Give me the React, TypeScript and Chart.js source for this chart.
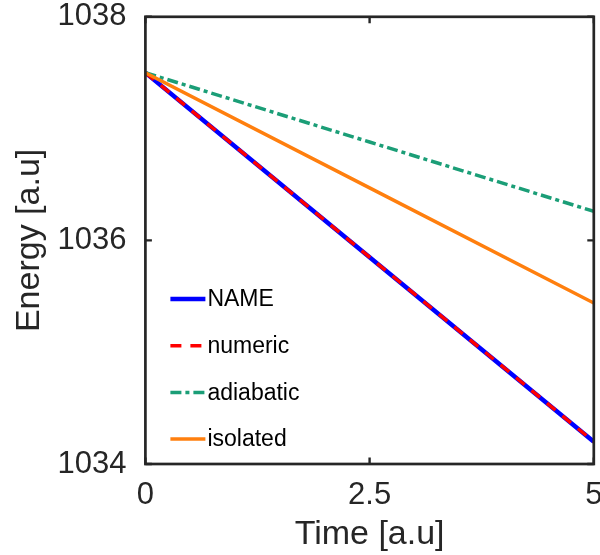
import React, { useEffect, useRef } from "react";
import { Chart, registerables } from "chart.js";

Chart.register(...registerables);

const timeValues = [0, 2.5, 5];
const nameSeries = [1037.5, 1035.85, 1034.2];
const numericSeries = [1037.5, 1035.85, 1034.2];
const adiabaticSeries = [1037.5, 1036.88, 1036.26];
const isolatedSeries = [1037.5, 1036.47, 1035.44];
const seriesLabels = ["NAME", "numeric", "adiabatic", "isolated"];
const xTicks = [0, 2.5, 5];
const yTicks = [1034, 1036, 1038];
const xTitle = "Time [a.u]";
const yTitle = "Energy [a.u]";

const FONT = "'Liberation Sans', Arial, Helvetica, sans-serif";
const AXIS = "#262626";

const toPoints = (ys: number[]) => timeValues.map((t, i) => ({ x: t, y: ys[i] }));

const framePlugin = {
  id: "frameAndLegend",
  afterDatasetsDraw(chart: any) {
    const { ctx, chartArea, scales } = chart;
    const { left, right, top, bottom } = chartArea;
    const xs = scales.x;
    const ys = scales.y;
    ctx.save();
    ctx.strokeStyle = AXIS;
    ctx.lineWidth = 2.7;
    ctx.setLineDash([]);
    ctx.strokeRect(left, top, right - left, bottom - top);
    const tl = 6.5;
    ctx.lineWidth = 2.4;
    ctx.beginPath();
    xTicks.forEach((v) => {
      const px = xs.getPixelForValue(v);
      ctx.moveTo(px, bottom);
      ctx.lineTo(px, bottom - tl);
      ctx.moveTo(px, top);
      ctx.lineTo(px, top + tl);
    });
    yTicks.forEach((v) => {
      const py = ys.getPixelForValue(v);
      ctx.moveTo(left, py);
      ctx.lineTo(left + tl, py);
      ctx.moveTo(right, py);
      ctx.lineTo(right - tl, py);
    });
    ctx.stroke();

    // legend inside the axes, lower left
    const lx0 = left + 25;
    const lx1 = left + 60;
    const tx = left + 62;
    const y0 = bottom - 165;
    const step = 46.7;
    ctx.font = `23px ${FONT}`;
    ctx.textBaseline = "middle";
    ctx.textAlign = "left";
    chart.data.datasets.forEach((ds: any, i: number) => {
      const yy = y0 + i * step;
      ctx.strokeStyle = ds.borderColor;
      ctx.lineWidth = ds.borderWidth;
      ctx.setLineDash(ds.borderDash || []);
      ctx.beginPath();
      ctx.moveTo(lx0, yy);
      ctx.lineTo(lx1, yy);
      ctx.stroke();
      ctx.setLineDash([]);
      ctx.fillStyle = "#000000";
      ctx.fillText(ds.label, tx, yy + 1);
    });
    ctx.restore();
  },
};

export default function App() {
  const canvasRef = useRef<HTMLCanvasElement | null>(null);

  useEffect(() => {
    if (!canvasRef.current) return;
    const chart = new Chart(canvasRef.current, {
      type: "line",
      data: {
        datasets: [
          {
            label: seriesLabels[0],
            data: toPoints(nameSeries),
            borderColor: "#0000ff",
            borderWidth: 4.5,
            pointRadius: 0,
            order: 4,
          },
          {
            label: seriesLabels[1],
            data: toPoints(numericSeries),
            borderColor: "#ff0000",
            borderWidth: 3.5,
            borderDash: [11, 9],
            pointRadius: 0,
            order: 3,
          },
          {
            label: seriesLabels[2],
            data: toPoints(adiabaticSeries),
            borderColor: "#1b9e77",
            borderWidth: 3.5,
            borderDash: [11, 4, 4, 4],
            pointRadius: 0,
            order: 2,
          },
          {
            label: seriesLabels[3],
            data: toPoints(isolatedSeries),
            borderColor: "#ff7f0e",
            borderWidth: 3.5,
            pointRadius: 0,
            order: 1,
          },
        ],
      },
      options: {
        animation: false,
        responsive: true,
        maintainAspectRatio: false,
        layout: { padding: { left: 0, right: 6.2, top: 16.8, bottom: 0 } },
        plugins: { legend: { display: false }, tooltip: { enabled: false } },
        scales: {
          x: {
            type: "linear",
            min: 0,
            max: 5,
            afterBuildTicks: (s: any) => {
              s.ticks = xTicks.map((v) => ({ value: v }));
            },
            afterFit: (s: any) => {
              s.height = 91;
              s.paddingLeft = 0;
              s.paddingRight = 0;
            },
            grid: { display: false, drawTicks: false },
            border: { display: false },
            ticks: {
              padding: 13,
              maxRotation: 0,
              color: AXIS,
              font: { family: FONT, size: 31 },
              callback: (v: any) => String(v),
            },
            title: {
              display: true,
              text: xTitle,
              color: AXIS,
              font: { family: FONT, size: 34 },
              padding: { top: 0, bottom: 0 },
            },
          },
          y: {
            type: "linear",
            min: 1034,
            max: 1038,
            afterBuildTicks: (s: any) => {
              s.ticks = yTicks.map((v) => ({ value: v }));
            },
            afterFit: (s: any) => {
              s.width = 145.4;
              s.paddingTop = 0;
              s.paddingBottom = 0;
            },
            grid: { display: false, drawTicks: false },
            border: { display: false },
            ticks: {
              padding: 19,
              color: AXIS,
              font: { family: FONT, size: 31 },
              callback: (v: any) => String(v),
            },
            title: {
              display: true,
              text: yTitle,
              color: AXIS,
              font: { family: FONT, size: 34 },
              padding: { top: 9, bottom: 0 },
            },
          },
        },
      },
      plugins: [framePlugin],
    } as any);
    return () => chart.destroy();
  }, []);

  return (
    <div style={{ position: "fixed", left: 0, top: 0, width: 600, height: 555, background: "#ffffff" }}>
      <canvas ref={canvasRef} />
    </div>
  );
}
